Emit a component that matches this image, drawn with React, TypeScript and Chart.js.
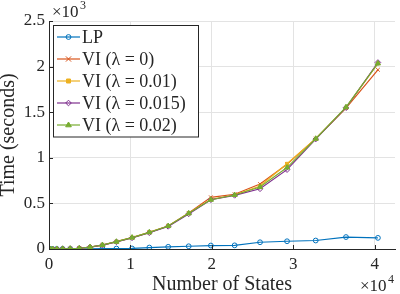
import React, { useEffect, useRef } from "react";
import { Chart, registerables } from "chart.js";

Chart.register(...registerables);

// ---- data ----
const numStates = [1, 121, 441, 961, 1681, 2601, 3721, 5041, 6561, 8281, 10201, 12321, 14641, 17161, 19881, 22801, 25921, 29241, 32761, 36481, 40401];
const timeLP = [0, 0, 0, 0, 1, 1, 2, 3, 4, 5, 6, 16, 24, 30, 38, 40, 74, 85, 93, 131, 122];
const timeVI0 = [0, 0, 0, 1, 2, 4, 8, 20, 42, 80, 125, 183, 252, 395, 567, 600, 712, 930, 1210, 1545, 1965];
const timeVI001 = [0, 0, 0, 1, 2, 4, 8, 20, 42, 80, 125, 183, 252, 391, 545, 592, 690, 935, 1209, 1549, 2035];
const timeVI0015 = [0, 0, 0, 1, 2, 4, 8, 20, 42, 78, 122, 178, 248, 385, 540, 588, 660, 870, 1205, 1549, 2045];
const timeVI002 = [0, 0, 0, 1, 2, 4, 8, 22, 44, 80, 125, 183, 252, 391, 540, 592, 680, 893, 1209, 1555, 2035];
const seriesLabels = ["LP", "VI (\u03bb = 0)", "VI (\u03bb = 0.01)", "VI (\u03bb = 0.015)", "VI (\u03bb = 0.02)"];
const xTicks = [0, 10000, 20000, 30000, 40000];
const yTicks = [0, 500, 1000, 1500, 2000, 2500];

const FONT = '"Liberation Serif", "Times New Roman", serif';
const TEXT = "#262626";
const GRID = "#e3e3e3";
const colors = ["#0072BD", "#D95319", "#EDB120", "#7E2F8E", "#77AC30"];
const markers = ["circle", "crossRot", "rect", "rectRot", "triangle"];
const filled = [false, false, true, false, true];
const radii = [2.4, 2.6, 2.0, 2.8, 3.0];

function drawMarker(ctx: CanvasRenderingContext2D, style: string, x: number, y: number, r: number, color: string, fill: boolean) {
  ctx.save();
  ctx.strokeStyle = color;
  ctx.fillStyle = color;
  ctx.lineWidth = 1;
  ctx.beginPath();
  if (style === "circle") {
    ctx.arc(x, y, r, 0, Math.PI * 2);
  } else if (style === "crossRot") {
    ctx.moveTo(x - r, y - r); ctx.lineTo(x + r, y + r);
    ctx.moveTo(x - r, y + r); ctx.lineTo(x + r, y - r);
  } else if (style === "rect") {
    ctx.rect(x - r, y - r, 2 * r, 2 * r);
  } else if (style === "rectRot") {
    ctx.moveTo(x, y - r); ctx.lineTo(x + r, y); ctx.lineTo(x, y + r); ctx.lineTo(x - r, y); ctx.closePath();
  } else if (style === "triangle") {
    ctx.moveTo(x, y - r); ctx.lineTo(x + r * 0.95, y + r * 0.6); ctx.lineTo(x - r * 0.95, y + r * 0.6); ctx.closePath();
  }
  if (fill) ctx.fill();
  ctx.stroke();
  ctx.restore();
}

const overlay = {
  id: "overlay",
  afterDraw(chart: any) {
    const { ctx, chartArea: a, scales } = chart;
    const xs = scales.x;
    const ys = scales.y;
    ctx.save();
    // inward tick marks
    ctx.strokeStyle = TEXT;
    ctx.lineWidth = 1;
    ctx.beginPath();
    for (const t of xTicks) {
      const px = Math.round(xs.getPixelForValue(t)) + 0.5;
      ctx.moveTo(px, a.bottom);
      ctx.lineTo(px, a.bottom - 4);
    }
    for (const t of yTicks) {
      const py = Math.round(ys.getPixelForValue(t)) + 0.5;
      ctx.moveTo(a.left, py);
      ctx.lineTo(a.left + 4, py);
    }
    ctx.stroke();

    // exponent labels
    ctx.fillStyle = TEXT;
    ctx.textAlign = "left";
    ctx.textBaseline = "alphabetic";
    ctx.font = `17px ${FONT}`;
    ctx.fillText("\u00d710", 52, 17);
    ctx.fillText("\u00d710", 360, 291);
    ctx.font = `12px ${FONT}`;
    ctx.fillText("3", 80, 9);
    ctx.fillText("4", 388, 283);

    // legend
    const lx = 53.5, ly = 25.5, lw = 145, lh = 111.5;
    ctx.fillStyle = "#ffffff";
    ctx.fillRect(lx, ly, lw, lh);
    ctx.strokeStyle = TEXT;
    ctx.lineWidth = 1;
    ctx.strokeRect(lx, ly, lw, lh);
    ctx.font = `18px ${FONT}`;
    ctx.textBaseline = "middle";
    seriesLabels.forEach((lab, i) => {
      const y = 37 + i * 22;
      ctx.strokeStyle = colors[i];
      ctx.lineWidth = 1.2;
      ctx.beginPath();
      ctx.moveTo(57, y);
      ctx.lineTo(80, y);
      ctx.stroke();
      drawMarker(ctx, markers[i], 68.5, y, radii[i], colors[i], filled[i]);
      ctx.fillStyle = TEXT;
      ctx.fillText(lab, 82, y + 1);
    });
    ctx.restore();
  },
};

export default function App() {
  const ref = useRef<HTMLCanvasElement>(null);
  useEffect(() => {
    document.body.style.margin = "0";
    const series = [timeLP, timeVI0, timeVI001, timeVI0015, timeVI002];
    const datasets = series.map((vals, i) => ({
      label: seriesLabels[i],
      data: numStates.map((s, k) => ({ x: s, y: vals[k] })),
      borderColor: colors[i],
      borderWidth: 1.2,
      pointStyle: markers[i] as any,
      pointRadius: radii[i],
      pointBorderWidth: 1,
      pointBorderColor: colors[i],
      pointBackgroundColor: filled[i] ? colors[i] : "rgba(0,0,0,0)",
      fill: false,
      tension: 0,
      order: 4 - i,
    }));
    const chart = new Chart(ref.current as HTMLCanvasElement, {
      type: "line",
      data: { datasets },
      options: {
        animation: false,
        responsive: false,
        events: [],
        layout: { padding: { top: 21, right: 1, left: 0, bottom: 0 } },
        plugins: { legend: { display: false }, tooltip: { enabled: false } },
        scales: {
          x: {
            type: "linear",
            min: 0,
            max: 42500,
            afterBuildTicks: (s: any) => { s.ticks = xTicks.map((v) => ({ value: v })); },
            afterFit: (s: any) => { s.height = 45; },
            grid: { color: GRID, drawTicks: false, lineWidth: 1 },
            border: { color: TEXT, width: 1 },
            ticks: {
              padding: 5,
              color: TEXT,
              font: { family: FONT, size: 17 },
              callback: (v: any) => String(Number(v) / 10000),
              maxRotation: 0,
            },
            title: {
              display: true,
              text: "Number of States",
              color: TEXT,
              font: { family: FONT, size: 20, lineHeight: 0.9 },
              padding: 0,
            },
          },
          y: {
            type: "linear",
            min: 0,
            max: 2500,
            afterBuildTicks: (s: any) => { s.ticks = yTicks.map((v) => ({ value: v })); },
            afterFit: (s: any) => { s.width = 49; },
            grid: { color: GRID, drawTicks: false, lineWidth: 1 },
            border: { color: TEXT, width: 1 },
            ticks: {
              padding: 4,
              color: TEXT,
              font: { family: FONT, size: 17 },
              callback: (v: any) => String(Number(v) / 1000),
            },
            title: {
              display: true,
              text: "Time (seconds)",
              color: TEXT,
              font: { family: FONT, size: 20, lineHeight: 0.9 },
              padding: 0,
            },
          },
        },
      },
      plugins: [overlay],
    });
    return () => chart.destroy();
  }, []);
  return (
    <div style={{ width: 400, height: 294 }}>
      <canvas ref={ref} width={400} height={294} style={{ display: "block" }} />
    </div>
  );
}
